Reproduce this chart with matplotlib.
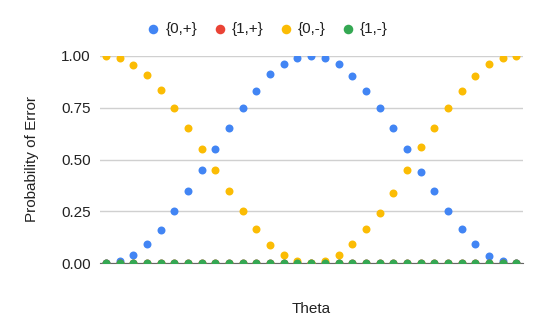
import matplotlib
matplotlib.use("Agg")
import matplotlib.pyplot as plt

plt.rcParams['font.family'] = ['Liberation Sans', 'DejaVu Sans']

theta_index = list(range(31))
p_0_plus = [0.0, 0.01, 0.04, 0.095, 0.16, 0.25, 0.35, 0.45, 0.55, 0.65, 0.75,
            0.83, 0.91, 0.96, 0.99, 1.0, 0.99, 0.96, 0.90, 0.83, 0.75, 0.65,
            0.55, 0.44, 0.35, 0.25, 0.165, 0.095, 0.035, 0.01, 0.0]
p_1_plus = [0.0] * 31
p_0_minus = [1.0, 0.99, 0.955, 0.905, 0.835, 0.75, 0.65, 0.55, 0.45, 0.35, 0.25,
             0.165, 0.09, 0.04, 0.01, 0.0, 0.01, 0.04, 0.095, 0.165, 0.24, 0.34,
             0.45, 0.56, 0.65, 0.75, 0.83, 0.90, 0.96, 0.99, 1.0]
p_1_minus = [0.0] * 31

series_names = ['{0,+}', '{1,+}', '{0,-}', '{1,-}']
series_colors = ['#4285F4', '#EA4335', '#FBBC04', '#34A853']
y_ticks = [0.0, 0.25, 0.5, 0.75, 1.0]
y_tick_labels = ['0.00', '0.25', '0.50', '0.75', '1.00']

fig = plt.figure(figsize=(5.4, 3.34), dpi=100)
ax = fig.add_axes([100/540, 1-263.3/334, 423/540, (263.3-55.7)/334])

handles = []
for vals, name, col in zip([p_0_plus, p_1_plus, p_0_minus, p_1_minus], series_names, series_colors):
    h = ax.scatter(theta_index, vals, s=33, color=col, label=name, linewidths=0,
                   zorder=3, clip_on=True)
    handles.append(h)

ax.set_xlim(-0.44, 30.49)
ax.set_ylim(0, 1)
ax.set_yticks(y_ticks)
ax.set_yticklabels(y_tick_labels)
ax.set_xticks([])
ax.tick_params(axis='y', length=0, pad=6.5, labelsize=11, labelcolor='#222222')
ax.grid(axis='y', color='#d0d0d0', linewidth=1, zorder=0)
for side in ['top', 'right', 'left']:
    ax.spines[side].set_visible(False)
ax.spines['bottom'].set_color('#666666')
ax.spines['bottom'].set_linewidth(0.8)
ax.spines['bottom'].set_zorder(2)

ax.set_ylabel('Probability of Error', fontsize=11, color='#222222', labelpad=16)
ax.set_xlabel('Theta', fontsize=11, color='#222222', labelpad=28)

fig.legend(handles=handles, loc='center', bbox_to_anchor=(268/540, 1-29/334), ncol=4,
           frameon=False, fontsize=11, handlelength=0.7, handletextpad=0.45,
           columnspacing=1.1, scatterpoints=1, markerscale=1.2, labelcolor='#222222')

fig.savefig('out.png', dpi=100)
